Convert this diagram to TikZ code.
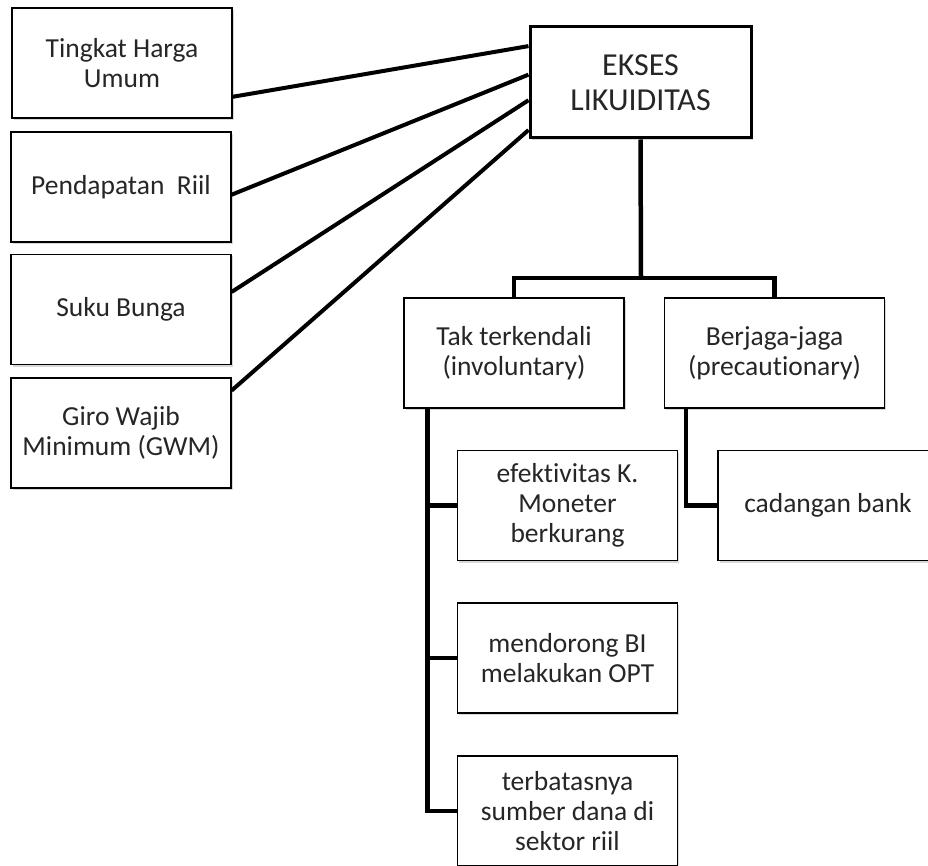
\documentclass[tikz,border=0pt]{standalone}
\usepackage{fontspec}
\setmainfont{Carlito}[Ligatures=NoCommon]
\usetikzlibrary{shadows}

\begin{document}
\begin{tikzpicture}[x=1pt,y=-1pt,
  kotak/.style={draw,line width=1.2pt,fill=white,text=black!85,
    minimum width=220pt,minimum height=110pt,align=center,
    font=\fontsize{27.5}{30}\selectfont,
    drop shadow={shadow xshift=1.5pt,shadow yshift=-2pt,opacity=0.3}},
  garis/.style={line width=4.5pt}]
\path[use as bounding box,fill=white] (0,0) rectangle (928,866);

\node[kotak] (harga) at (122,63) {Tingkat Harga\\Umum};
\node[kotak] (pendapatan) at (121,187) {Pendapatan~ Riil};
\node[kotak] (bunga) at (121,309.5) {Suku Bunga};
\node[kotak] (gwm) at (121,433) {Giro Wajib\\Minimum (GWM)};

\node[kotak,line width=3pt,minimum width=221pt,minimum height=111pt,
  font=\fontsize{32}{35}\selectfont] (ekses) at (640.5,82.5) {EKSES\\LIKUIDITAS};

\node[kotak] (tak) at (514,353) {Tak terkendali\\(involuntary)};
\node[kotak] (jaga) at (774.5,353) {Berjaga-jaga\\(precautionary)};

\node[kotak] (efek) at (567.5,505.5) {efektivitas K.\\Moneter\\berkurang};
\node[kotak] (cadangan) at (828,505.5) {cadangan bank};
\node[kotak] (opt) at (567.5,658) {mendorong BI\\melakukan OPT};
\node[kotak] (dana) at (567.5,811) {terbatasnya\\sumber dana di\\sektor riil};

\draw[line width=4pt] (harga.-17.6) -- (ekses.162.7);
\draw[line width=4pt] (pendapatan.-4.2) -- (ekses.176.1);
\draw[line width=4pt] (bunga.9) -- (ekses.-171);
\draw[line width=4pt] (gwm.21.3) -- (ekses.-157.6);

\coordinate (cabang) at (641,278);
\draw[garis] (ekses.south) -- (cabang);
\draw[garis] (tak.north) |- (cabang) -| (jaga.north);

\draw[garis] ([xshift=24pt]tak.south west) |- (efek.west);
\draw[garis] ([xshift=24pt]tak.south west) |- (opt.west);
\draw[garis] ([xshift=24pt]tak.south west) |- (dana.west);
\draw[garis] ([xshift=22pt]jaga.south west) |- (cadangan.west);
\end{tikzpicture}
\end{document}
